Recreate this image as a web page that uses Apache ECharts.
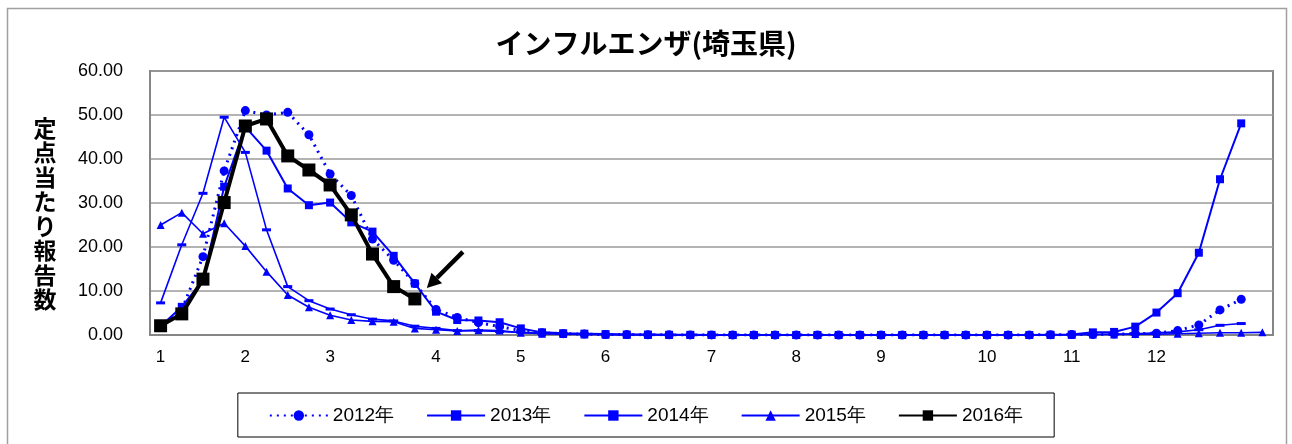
<!DOCTYPE html>
<html>
<head>
<meta charset="utf-8">
<script src="https://cdn.jsdelivr.net/npm/echarts@6/dist/echarts.min.js"></script>
<style>
html,body{margin:0;padding:0;background:#fff;}
#c{width:1292px;height:444px;}
</style>
</head>
<body>
<div id="c"></div>
<script>
const weeks = [1,2,3,4,5,6,7,8,9,10,11,12,13,14,15,16,17,18,19,20,21,22,23,24,25,26,27,28,29,30,31,32,33,34,35,36,37,38,39,40,41,42,43,44,45,46,47,48,49,50,51,52,53];
const monthLabelWeeks = [1,5,9,14,18,22,27,31,35,40,44,48];
const monthLabels = ['1','2','3','4','5','6','7','8','9','10','11','12'];
const yTickValues = [0,10,20,30,40,50,60];

const s2012 = [1.8,5.7,17.8,37.3,51.0,50.0,50.6,45.5,36.6,31.7,21.8,17.0,11.7,5.8,4.0,2.8,1.9,1.0,0.5,0.3,0.2,0.1,0.1,0.05,0.03,0.02,0.02,0.01,0.01,0,0,0,0,0,0,0,0,0,0,0,0.01,0.02,0.05,0.1,0.1,0.2,0.3,0.4,1.0,2.3,5.7,8.1,null];
const s2013 = [7.3,20.5,32.2,49.5,41.5,23.9,11.0,7.8,5.9,4.6,3.6,3.2,2.0,1.5,1.0,1.0,0.8,0.6,0.4,0.3,0.2,0.1,0.1,0.05,0.03,0.02,0.01,0.01,0,0,0,0,0,0,0,0,0,0,0,0,0,0.01,0.02,0.05,0.1,0.2,0.3,0.5,0.7,1.2,2.2,2.6,null];
const s2014 = [2.0,6.4,12.5,33.7,47.3,41.9,33.3,29.5,30.1,25.6,23.5,18.0,11.7,5.3,3.4,3.3,2.9,1.5,0.6,0.4,0.3,0.2,0.1,0.1,0.05,0.03,0.02,0.01,0,0,0,0,0,0,0,0,0,0,0,0,0,0,0.05,0.1,0.6,0.7,1.9,5.1,9.5,18.7,35.4,48.1,null];
const s2015 = [25.0,27.8,23.0,25.4,20.2,14.4,9.1,6.3,4.5,3.4,3.1,3.0,1.5,1.2,0.9,1.1,1.0,0.5,0.3,0.2,0.1,0.05,0.03,0.02,0.01,0,0,0,0,0,0,0,0,0,0,0,0,0,0,0,0,0,0.02,0.05,0.1,0.1,0.2,0.2,0.3,0.4,0.5,0.5,0.6];
const s2016 = [2.1,4.8,12.7,30.1,47.5,49.1,40.7,37.5,34.1,27.3,18.4,11.0,8.2,null,null,null,null,null,null,null,null,null,null,null,null,null,null,null,null,null,null,null,null,null,null,null,null,null,null,null,null,null,null,null,null,null,null,null,null,null,null,null,null];
const seriesNames = ['2012年','2013年','2014年','2015年','2016年'];
const titleText = 'インフルエンザ(埼玉県)';
const yName = '定点当たり報告数';

const BLUE = '#0000FF';
const chart = echarts.init(document.getElementById('c'));
const labelFont = '"Liberation Sans", Arial, sans-serif';
const cjkFont = '"Noto Sans CJK JP", sans-serif';

chart.setOption({
  animation: false,
  backgroundColor: '#fff',
  title: {
    text: titleText, left: 'center', top: 24,
    textStyle: {fontFamily: cjkFont, fontWeight: 'bold', fontSize: 28, color: '#000'}
  },
  grid: {left: 150, right: 19, top: 71, bottom: 109, show: true, borderColor: '#868686', borderWidth: 2, backgroundColor: 'transparent'},
  legend: {
    data: seriesNames, bottom: 7, left: 'center',
    borderColor: '#000', borderWidth: 1, padding: [13, 31, 12, 31],
    itemGap: 32, itemWidth: 58, itemHeight: 13,
    textStyle: {fontFamily: labelFont, fontSize: 19, color: '#000'}
  },
  xAxis: {
    type: 'category', data: weeks, boundaryGap: true,
    axisLine: {show: true, lineStyle: {color: '#868686', width: 2}},
    axisTick: {show: false},
    axisLabel: {
      interval: 0, margin: 14, fontFamily: labelFont, fontSize: 17, color: '#000',
      formatter: function (v) { const i = monthLabelWeeks.indexOf(Number(v)); return i >= 0 ? monthLabels[i] : ''; }
    },
    splitLine: {show: false}
  },
  yAxis: {
    type: 'value', min: yTickValues[0], max: yTickValues[yTickValues.length-1], interval: 10,
    axisLine: {show: true, lineStyle: {color: '#868686', width: 2}},
    axisTick: {show: false},
    axisLabel: {margin: 27, fontFamily: labelFont, fontSize: 18, color: '#000', formatter: v => v.toFixed(2)},
    splitLine: {show: true, lineStyle: {color: '#9a9a9a', width: 1.5}}
  },
  series: [
    {name: seriesNames[0], type: 'line', data: s2012, symbol: 'circle', symbolSize: 9,
     lineStyle: {color: BLUE, width: 3, type: [2, 5]}, itemStyle: {color: BLUE}, z: 2},
    {name: seriesNames[1], type: 'line', data: s2013, symbol: 'rect', symbolSize: [9, 3],
     lineStyle: {color: BLUE, width: 1.6}, itemStyle: {color: BLUE}, z: 2},
    {name: seriesNames[2], type: 'line', data: s2014, symbol: 'rect', symbolSize: 8,
     lineStyle: {color: BLUE, width: 2}, itemStyle: {color: BLUE}, z: 2},
    {name: seriesNames[3], type: 'line', data: s2015, symbol: 'triangle', symbolSize: 8,
     lineStyle: {color: BLUE, width: 1.6}, itemStyle: {color: BLUE}, z: 2},
    {name: seriesNames[4], type: 'line', data: s2016, symbol: 'rect', symbolSize: 13,
     lineStyle: {color: '#000', width: 4}, itemStyle: {color: '#000'}, z: 5}
  ]
});

// annotation arrow pointing at the last 2016 point
const lastIdx = s2016.findIndex(v => v === null) - 1;
const p = chart.convertToPixel({gridIndex: 0}, [lastIdx, s2016[lastIdx]]);
const tip = [p[0] + 12, p[1] - 11];
const tail = [p[0] + 48, p[1] - 47];
const dx = tip[0] - tail[0], dy = tip[1] - tail[1];
const L = Math.sqrt(dx*dx + dy*dy), ux = dx / L, uy = dy / L;
const base = [tip[0] - 14*ux, tip[1] - 14*uy];
const px = -uy * 7.5, py = ux * 7.5;

chart.setOption({
  graphic: [
    {type: 'rect', shape: {x: 7.5, y: 8.5, width: 1279, height: 460}, style: {fill: 'none', stroke: '#a0a0a0', lineWidth: 1.5}, silent: true, z: -1},
    {type: 'text', x: 45, y: 116, style: {text: yName.split('').join('\n'), font: 'bold 23px ' + cjkFont, lineHeight: 24.5, fill: '#000', textAlign: 'center', textVerticalAlign: 'top'}},
    {type: 'line', shape: {x1: tail[0], y1: tail[1], x2: base[0], y2: base[1]}, style: {stroke: '#000', lineWidth: 4.5}, z: 10},
    {type: 'polygon', shape: {points: [tip, [base[0]+px, base[1]+py], [base[0]-px, base[1]-py]]}, style: {fill: '#000'}, z: 10}
  ]
});
</script>
</body>
</html>
